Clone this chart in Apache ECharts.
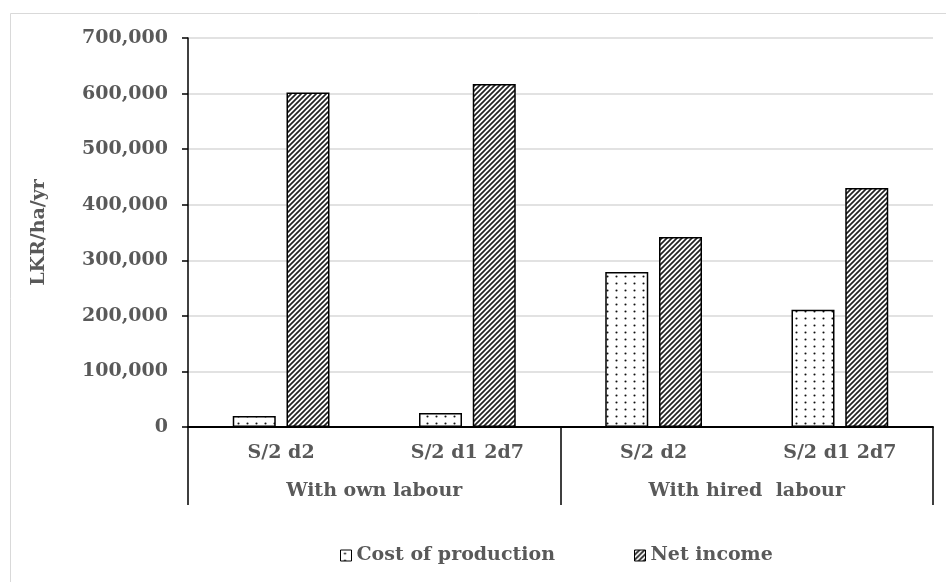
<!DOCTYPE html>
<html>
<head>
<meta charset="utf-8">
<script src="https://cdn.jsdelivr.net/npm/echarts@6/dist/echarts.min.js"></script>
<style>
  html, body { margin: 0; padding: 0; background: #ffffff; }
  #chart { width: 946px; height: 582px; }
</style>
</head>
<body>
<div id="chart"></div>
<script>
// Treatments shown under each labour scenario
const treatments = ['S/2 d2', 'S/2 d1 2d7', 'S/2 d2', 'S/2 d1 2d7'];
const labourGroups = ['With own labour', 'With hired  labour'];

// LKR per hectare per year
const costOfProduction = [20000, 25000, 279000, 211000];
const netIncome = [602000, 617000, 342000, 430000];

const seriesNames = ['Cost of production', 'Net income'];
const yTicks = [0, 100000, 200000, 300000, 400000, 500000, 600000, 700000];

const FONT = '"DejaVu Serif", serif';
const TEXT = '#595959';
const FS = 19;

// Fill patterns for the two series
function dotPattern() {
  const c = document.createElement('canvas');
  c.width = 9; c.height = 7;
  const g = c.getContext('2d');
  g.fillStyle = '#ffffff';
  g.fillRect(0, 0, 9, 7);
  g.fillStyle = '#111111';
  g.beginPath();
  g.arc(4.5, 3.5, 1.05, 0, Math.PI * 2);
  g.fill();
  return c;
}
function hatchPattern() {
  const s = 5;
  const c = document.createElement('canvas');
  c.width = s; c.height = s;
  const g = c.getContext('2d');
  g.fillStyle = '#ffffff';
  g.fillRect(0, 0, s, s);
  g.strokeStyle = '#222222';
  g.lineWidth = 1.7;
  g.beginPath();
  g.moveTo(0, s); g.lineTo(s, 0);
  g.moveTo(-1, 1); g.lineTo(1, -1);
  g.moveTo(s - 1, s + 1); g.lineTo(s + 1, s - 1);
  g.stroke();
  return c;
}
const dotFill = { image: dotPattern(), repeat: 'repeat' };
const hatchFill = { image: hatchPattern(), repeat: 'repeat' };

const fmt = v => v.toLocaleString('en-US');

const chart = echarts.init(document.getElementById('chart'), null, { renderer: 'canvas' });

const legendText = { color: TEXT, fontFamily: FONT, fontWeight: 'bold', fontSize: FS };

chart.setOption({
  animation: false,
  backgroundColor: '#ffffff',
  graphic: [{
    type: 'rect',
    shape: { x: 10.5, y: 13.5, width: 1000, height: 1000 },
    style: { fill: 'none', stroke: '#d9d9d9', lineWidth: 1 },
    silent: true
  }],
  grid: { left: 188, right: 13, top: 38, bottom: 155, containLabel: false },
  legend: [
    {
      data: [seriesNames[0]], left: 335, top: 541,
      icon: 'rect', itemWidth: 11, itemHeight: 11,
      itemStyle: { borderColor: '#000', borderWidth: 1 },
      textStyle: legendText
    },
    {
      data: [seriesNames[1]], left: 629, top: 541,
      icon: 'rect', itemWidth: 11, itemHeight: 11,
      itemStyle: { borderColor: '#000', borderWidth: 1 },
      textStyle: legendText
    }
  ],
  xAxis: [
    {
      type: 'category',
      data: treatments,
      position: 'bottom',
      axisLine: { show: true, onZero: false, lineStyle: { color: '#000', width: 2 } },
      axisTick: { show: false },
      axisLabel: { color: TEXT, fontFamily: FONT, fontWeight: 'bold', fontSize: FS, margin: 17 },
      splitLine: { show: false }
    },
    {
      type: 'category',
      data: labourGroups,
      position: 'bottom',
      axisLine: { show: false },
      axisTick: { show: true, length: 78, lineStyle: { color: '#000', width: 1.5 } },
      axisLabel: { color: TEXT, fontFamily: FONT, fontWeight: 'bold', fontSize: FS, margin: 55 },
      splitLine: { show: false }
    }
  ],
  yAxis: {
    type: 'value',
    min: yTicks[0],
    max: yTicks[yTicks.length - 1],
    interval: yTicks[1] - yTicks[0],
    name: 'LKR/ha/yr',
    nameLocation: 'middle',
    nameGap: 139,
    nameRotate: 90,
    nameTextStyle: { color: TEXT, fontFamily: FONT, fontWeight: 'bold', fontSize: FS },
    axisLine: { show: true, lineStyle: { color: '#000', width: 1.5 } },
    axisTick: { show: true, length: 6, lineStyle: { color: '#000', width: 1.5 } },
    axisLabel: { color: TEXT, fontFamily: FONT, fontWeight: 'bold', fontSize: FS, margin: 20, formatter: fmt },
    splitLine: { show: true, lineStyle: { color: '#d9d9d9', width: 1.5 } }
  },
  series: [
    {
      name: seriesNames[0],
      type: 'bar',
      xAxisIndex: 0,
      data: costOfProduction,
      barWidth: 43,
      barGap: '25%',
      itemStyle: { color: dotFill, borderColor: '#000', borderWidth: 1.5 }
    },
    {
      name: seriesNames[1],
      type: 'bar',
      xAxisIndex: 0,
      data: netIncome,
      barWidth: 43,
      barGap: '25%',
      itemStyle: { color: hatchFill, borderColor: '#000', borderWidth: 1.5 }
    }
  ]
});
</script>
</body>
</html>
